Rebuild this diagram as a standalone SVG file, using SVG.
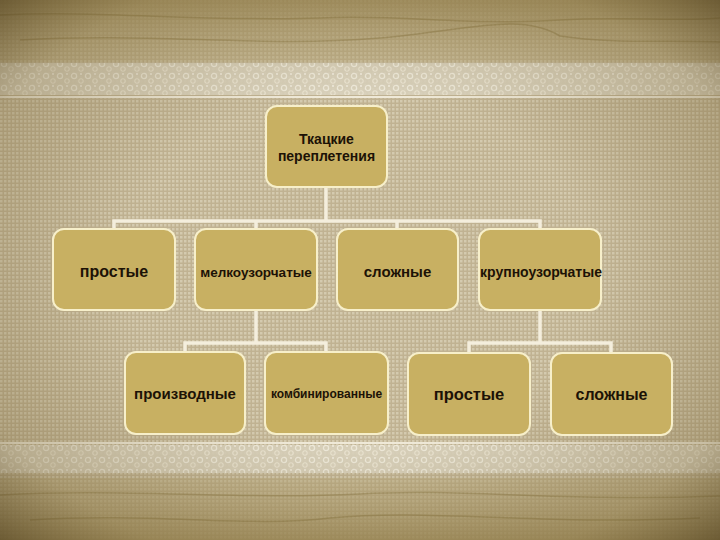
<svg xmlns="http://www.w3.org/2000/svg" width="720" height="540" viewBox="0 0 720 540">
<defs>
<pattern id="grid" width="4" height="4" patternUnits="userSpaceOnUse">
<rect width="4" height="4" fill="#c0b292"/>
<rect x="0" y="0" width="2.5" height="2.5" fill="#d4caaf"/>
</pattern>
<pattern id="lace" width="14" height="12" patternUnits="userSpaceOnUse">
<rect width="14" height="12" fill="#d9d2bd"/>
<circle cx="4" cy="4" r="2.6" fill="none" stroke="#f2eee0" stroke-width="1.3"/>
<circle cx="11" cy="9" r="2.2" fill="none" stroke="#efe9d8" stroke-width="1.1"/>
<circle cx="11" cy="2" r="1" fill="#f4f0e4"/>
</pattern>
<radialGradient id="vig" cx="50%" cy="50%" r="72%">
<stop offset="0.45" stop-color="#6e5a2a" stop-opacity="0"/>
<stop offset="0.8" stop-color="#6e5a2a" stop-opacity="0.3"/>
<stop offset="1" stop-color="#4a3a18" stop-opacity="0.7"/>
</radialGradient>
<linearGradient id="topband" x1="0" y1="0" x2="0" y2="1">
<stop offset="0" stop-color="#a08c58" stop-opacity="0.75"/>
<stop offset="1" stop-color="#b9a878" stop-opacity="0.35"/>
</linearGradient>
<linearGradient id="botband" x1="0" y1="0" x2="0" y2="1">
<stop offset="0" stop-color="#b9a878" stop-opacity="0.35"/>
<stop offset="1" stop-color="#a08c58" stop-opacity="0.75"/>
</linearGradient>
</defs>
<style>
.node rect{fill:#c8b062;stroke:#f7efca;stroke-width:2}
.node text{font-family:"Liberation Sans",Arial,sans-serif;font-weight:bold;fill:#1c1206;text-anchor:middle}
.conn{fill:none;stroke:#f4eedd;stroke-width:3.5}
.streak{fill:none;stroke:#7a6630;stroke-opacity:0.35;stroke-width:1.5}
</style>
<!-- background -->
<rect width="720" height="540" fill="url(#grid)"/>
<rect x="0" y="0" width="720" height="62" fill="url(#topband)"/>
<rect x="0" y="478" width="720" height="62" fill="url(#botband)"/>
<path class="streak" d="M0 15 C100 10 200 22 320 18 C400 14 470 26 560 20 C620 16 680 22 720 18"/>
<path class="streak" d="M20 40 C150 32 260 48 380 38 C470 30 520 12 560 36 C610 44 680 40 720 42"/>
<path class="streak" d="M0 495 C120 488 240 500 360 494 C460 488 560 502 720 496"/>
<path class="streak" d="M30 520 C150 512 250 528 330 518 C430 508 540 526 700 518"/>
<rect x="0" y="63" width="720" height="32" fill="url(#lace)" opacity="0.9"/>
<line x1="0" y1="97" x2="720" y2="97" stroke="#efe9d8" stroke-width="2"/>
<rect x="0" y="445" width="720" height="28" fill="url(#lace)" opacity="0.9"/>
<line x1="0" y1="443" x2="720" y2="443" stroke="#efe9d8" stroke-width="2"/>
<rect width="720" height="540" fill="url(#vig)"/>
<!-- connectors -->
<g id="connectors">
<path class="conn" d="M326 187 V221 M114 229 V221 H540 V229 M256 221 V229 M397 221 V229"/>
<path class="conn" d="M256 310 V343 M185 352 V343 H326 V352"/>
<path class="conn" d="M540 310 V343 M469 353 V343 H611 V353"/>
</g>
<!-- nodes -->
<g id="n-root" class="node"><rect x="266" y="106" width="121" height="81" rx="11"/><text x="326.5" y="144" font-size="14">Ткацкие</text><text x="326.5" y="161" font-size="14">переплетения</text></g>
<g id="n-prostye" class="node"><rect x="53" y="229" width="122" height="81" rx="11"/><text x="114" y="277" font-size="16">простые</text></g>
<g id="n-melko" class="node"><rect x="195" y="229" width="122" height="81" rx="11"/><text x="256" y="277" font-size="13.5">мелкоузорчатые</text></g>
<g id="n-slozhnye" class="node"><rect x="337" y="229" width="121" height="81" rx="11"/><text x="397.5" y="277" font-size="15">сложные</text></g>
<g id="n-krupno" class="node"><rect x="479" y="229" width="122" height="81" rx="11"/><text x="541" y="277" font-size="14">крупноузорчатые</text></g>
<g id="n-proizv" class="node"><rect x="125" y="352" width="120" height="82" rx="11"/><text x="185" y="399" font-size="15">производные</text></g>
<g id="n-kombi" class="node"><rect x="265" y="352" width="123" height="82" rx="11"/><text x="326.5" y="398" font-size="12">комбинированные</text></g>
<g id="n-prostye2" class="node"><rect x="408" y="353" width="122" height="82" rx="11"/><text x="469" y="400" font-size="16.5">простые</text></g>
<g id="n-slozhnye2" class="node"><rect x="551" y="353" width="121" height="82" rx="11"/><text x="611.5" y="400" font-size="16">сложные</text></g>
</svg>
